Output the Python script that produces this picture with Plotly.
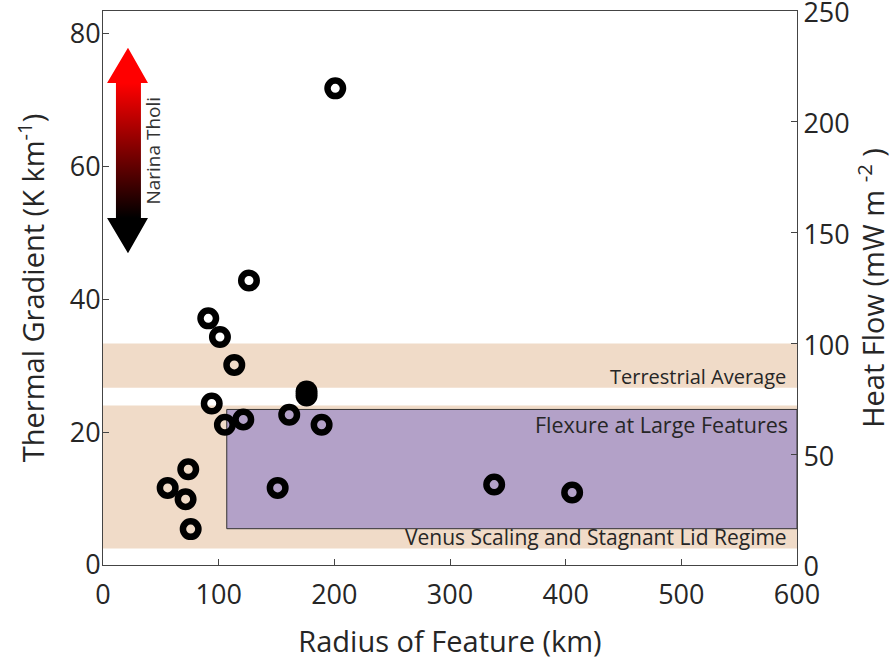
import plotly.graph_objects as go

# ---- data ----
radius_km = [91.0, 101.1, 113.5, 94.0, 105.4, 121.3, 161.0, 189.0, 73.7, 55.9,
             71.4, 75.8, 151.0, 338.2, 405.6, 200.8, 126.2]
gradient_K_km = [37.1, 34.3, 30.1, 24.3, 21.1, 21.9, 22.6, 21.1, 14.4, 11.6,
                 9.9, 5.4, 11.6, 12.1, 10.9, 71.7, 42.8]
# two nearly coincident features (appear as a solid blob)
overlap_radius = [176.0, 176.0]
overlap_gradient = [26.1, 25.5]

# regimes (thermal gradient, K/km)
terrestrial_band = [26.67, 33.33]
venus_band = [2.5, 24.0]
flexure_box = {"x": [107.0, 600.0], "y": [5.46, 23.4]}

x_ticks = [0, 100, 200, 300, 400, 500, 600]
left_ticks = [0, 20, 40, 60, 80]
right_ticks = [0, 50, 100, 150, 200, 250]
conductivity = 3.0  # heat flow = k * gradient
right_max = 250.0
left_max = right_max / conductivity

# arrow (annotation graphic) in axis units
arrow_x = [21.6, 38.9, 32.8, 32.8, 38.9, 21.6, 3.5, 11.2, 11.2, 3.5, 21.6]
arrow_y = [77.8, 72.5, 72.5, 52.2, 52.2, 46.9, 52.2, 52.2, 72.5, 72.5, 77.8]

FONT = "Open Sans"
TXT = "#262626"
PEACH = "rgb(240,219,200)"
PURPLE = "rgb(179,161,200)"

fig = go.Figure()

fig.add_trace(go.Scatter(
    x=arrow_x, y=arrow_y, mode="lines", fill="toself",
    line=dict(width=0, color="rgba(0,0,0,0)"),
    fillgradient=dict(type="vertical", start=52.2, stop=72.5,
                      colorscale=[[0, "black"], [1, "red"]]),
    hoverinfo="skip", showlegend=False))

fig.add_trace(go.Scatter(
    x=radius_km, y=gradient_K_km, mode="markers",
    marker=dict(symbol="circle-open", size=15.5, color="black",
                line=dict(width=6.5, color="black")),
    showlegend=False))

fig.add_trace(go.Scatter(
    x=overlap_radius, y=overlap_gradient, mode="markers",
    marker=dict(symbol="circle", size=22, color="black", line=dict(width=0)),
    showlegend=False))

# dummy trace for right axis
fig.add_trace(go.Scatter(x=[None], y=[None], yaxis="y2", showlegend=False,
                         hoverinfo="skip"))

shapes = [
    dict(type="rect", xref="paper", x0=0, x1=1, yref="y",
         y0=terrestrial_band[0], y1=terrestrial_band[1],
         fillcolor=PEACH, line=dict(width=0), layer="below"),
    dict(type="rect", xref="paper", x0=0, x1=1, yref="y",
         y0=venus_band[0], y1=venus_band[1],
         fillcolor=PEACH, line=dict(width=0), layer="below"),
    dict(type="rect", xref="x", x0=flexure_box["x"][0], x1=flexure_box["x"][1],
         yref="y", y0=flexure_box["y"][0], y1=flexure_box["y"][1],
         fillcolor=PURPLE, line=dict(width=1, color="#333333"), layer="below"),
]

annotations = [
    dict(x=592, y=28.4, xref="x", yref="y", text="Terrestrial Average",
         showarrow=False, xanchor="right", yanchor="middle",
         font=dict(family=FONT, size=20, color=TXT)),
    dict(x=594, y=21.1, xref="x", yref="y", text="Flexure at Large Features",
         showarrow=False, xanchor="right", yanchor="middle",
         font=dict(family=FONT, size=21.5, color=TXT)),
    dict(x=593, y=4.2, xref="x", yref="y",
         text="Venus Scaling and Stagnant Lid Regime",
         showarrow=False, xanchor="right", yanchor="middle",
         font=dict(family=FONT, size=21, color=TXT)),
    dict(x=43, y=62.3, xref="x", yref="y", text="Narina Tholi",
         showarrow=False, textangle=-90, xanchor="center", yanchor="middle",
         font=dict(family=FONT, size=19, color="#333333")),
]

axis_common = dict(showgrid=False, zeroline=False, ticks="inside", ticklen=6,
                   tickcolor="#444", linecolor="#444", linewidth=1,
                   showline=True, automargin=False, ticklabeloverflow="allow",
                   tickfont=dict(family=FONT, size=27, color=TXT))

fig.update_layout(
    width=894, height=661,
    margin=dict(l=103, r=97, t=11, b=96),
    paper_bgcolor="white", plot_bgcolor="white",
    shapes=shapes, annotations=annotations,
    xaxis=dict(range=[0, 600], tickvals=x_ticks, mirror=True,
               ticklabelstandoff=6,
               title=dict(text="Radius of Feature (km)", standoff=20,
                          font=dict(family=FONT, size=29, color=TXT)),
               **axis_common),
    yaxis=dict(range=[0, left_max * 1.00004], tickvals=left_ticks,
               ticklabelstandoff=-4,
               title=dict(text="Thermal Gradient (K km<sup>-1</sup>)", standoff=16,
                          font=dict(family=FONT, size=29, color=TXT)),
               **axis_common),
    yaxis2=dict(range=[0, right_max * 1.00004], tickvals=right_ticks,
                overlaying="y", side="right", ticklabelshift=2,
                title=dict(text="Heat Flow (mW m <sup>-2</sup> )", standoff=0,
                           font=dict(family=FONT, size=29, color=TXT)),
                **axis_common),
    showlegend=False,
)

fig.write_html("out.html",
               config={"displayModeBar": False},
               post_script="document.body.style.margin='0';")
